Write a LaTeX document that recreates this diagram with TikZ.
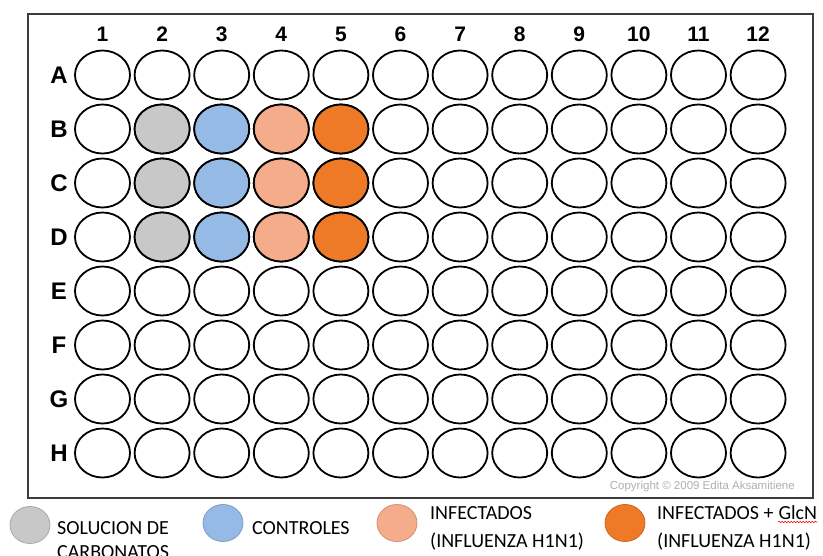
\documentclass[tikz,border=0pt]{standalone}
\usepackage{fontspec}
\setmainfont{Liberation Sans}
\newfontfamily\legfont{Carlito}
\usetikzlibrary{shapes.geometric,decorations.pathmorphing}
\definecolor{wgray}{RGB}{200,200,200}
\definecolor{wblue}{RGB}{150,186,230}
\definecolor{wsalmon}{RGB}{245,172,138}
\definecolor{worange}{RGB}{238,122,40}
\definecolor{framecol}{RGB}{60,60,60}
\definecolor{copycol}{RGB}{175,175,175}
\begin{document}
\begin{tikzpicture}[x=1pt,y=-1pt,
  well/.style={ellipse, draw=black, line width=1.8pt, minimum width=55pt, minimum height=49pt, inner sep=0pt},
  collab/.style={font=\fontsize{21}{21}\selectfont\bfseries, inner sep=0pt},
  rowlab/.style={font=\fontsize{24}{24}\selectfont\bfseries, inner sep=0pt},
  legdot/.style={ellipse, minimum width=40pt, minimum height=37pt, inner sep=0pt, line width=0.8pt},
  legtext/.style={font=\legfont\fontsize{20}{20}\selectfont, inner sep=0pt, anchor=base west},
  copytext/.style={font=\fontsize{11.5}{11.5}\selectfont, text=copycol, inner sep=0pt}]
\useasboundingbox (0,0) rectangle (823,555);
\fill[white] (0,0) rectangle (823,555);
\draw[framecol, line width=1.8pt] (28,14) rectangle (813,498);
% column labels
\foreach \c in {1,...,12} {
  \node[collab] (col\c) at ({102.5+(\c-1)*59.6},34.5) {\c};
}
% row labels and wells
\foreach \r/\L [count=\i from 0] in {A/A,B/B,C/C,D/D,E/E,F/F,G/G,H/H} {
  \node[rowlab] (row\L) at (59,{75+\i*54}) {\L};
  \foreach \c in {1,...,12} {
    \node[well] (w\L\c) at ({102.5+(\c-1)*59.6},{75+\i*54}) {};
  }
}
% coloured wells
\foreach \L in {B,C,D} {
  \node[well, fill=wgray] at (w\L2) {};
  \node[well, fill=wblue] at (w\L3) {};
  \node[well, fill=wsalmon] at (w\L4) {};
  \node[well, fill=worange] at (w\L5) {};
}
\node[copytext, anchor=east] (copy) at (795,487) {Copyright \textcopyright\ 2009 Edita Aksamitiene};
% legend
\node[legdot, fill=wgray, draw=wgray!85!black] (d1) at (30,525) {};
\node[legtext] (t1a) at (57,534) {SOLUCION DE};
\node[legtext] (t1b) at (57,558) {CARBONATOS};
\node[legdot, fill=wblue, draw=wblue!85!black] (d2) at (223,523) {};
\node[legtext] (t2) at (252,534) {CONTROLES};
\node[legdot, fill=wsalmon, draw=wsalmon!85!black] (d3) at (397,523) {};
\node[legtext] (t3a) at (430,519) {INFECTADOS};
\node[legtext] (t3b) at (430,547) {(INFLUENZA H1N1)};
\node[legdot, fill=worange, draw=worange!85!black] (d4) at (625,523) {};
\node[legtext] (t4a) at (657,519) {INFECTADOS +};
\node[legtext] (glcn) at ([xshift=4.5pt]t4a.base east) {GlcN};
\node[legtext] (t4b) at (657,547) {(INFLUENZA H1N1)};
\draw[red, line width=0.6pt, decorate, decoration={snake, amplitude=0.8pt, segment length=3pt}]
  ([yshift=-3pt]glcn.base west) -- ([yshift=-3pt]glcn.base east);
\end{tikzpicture}
\end{document}
